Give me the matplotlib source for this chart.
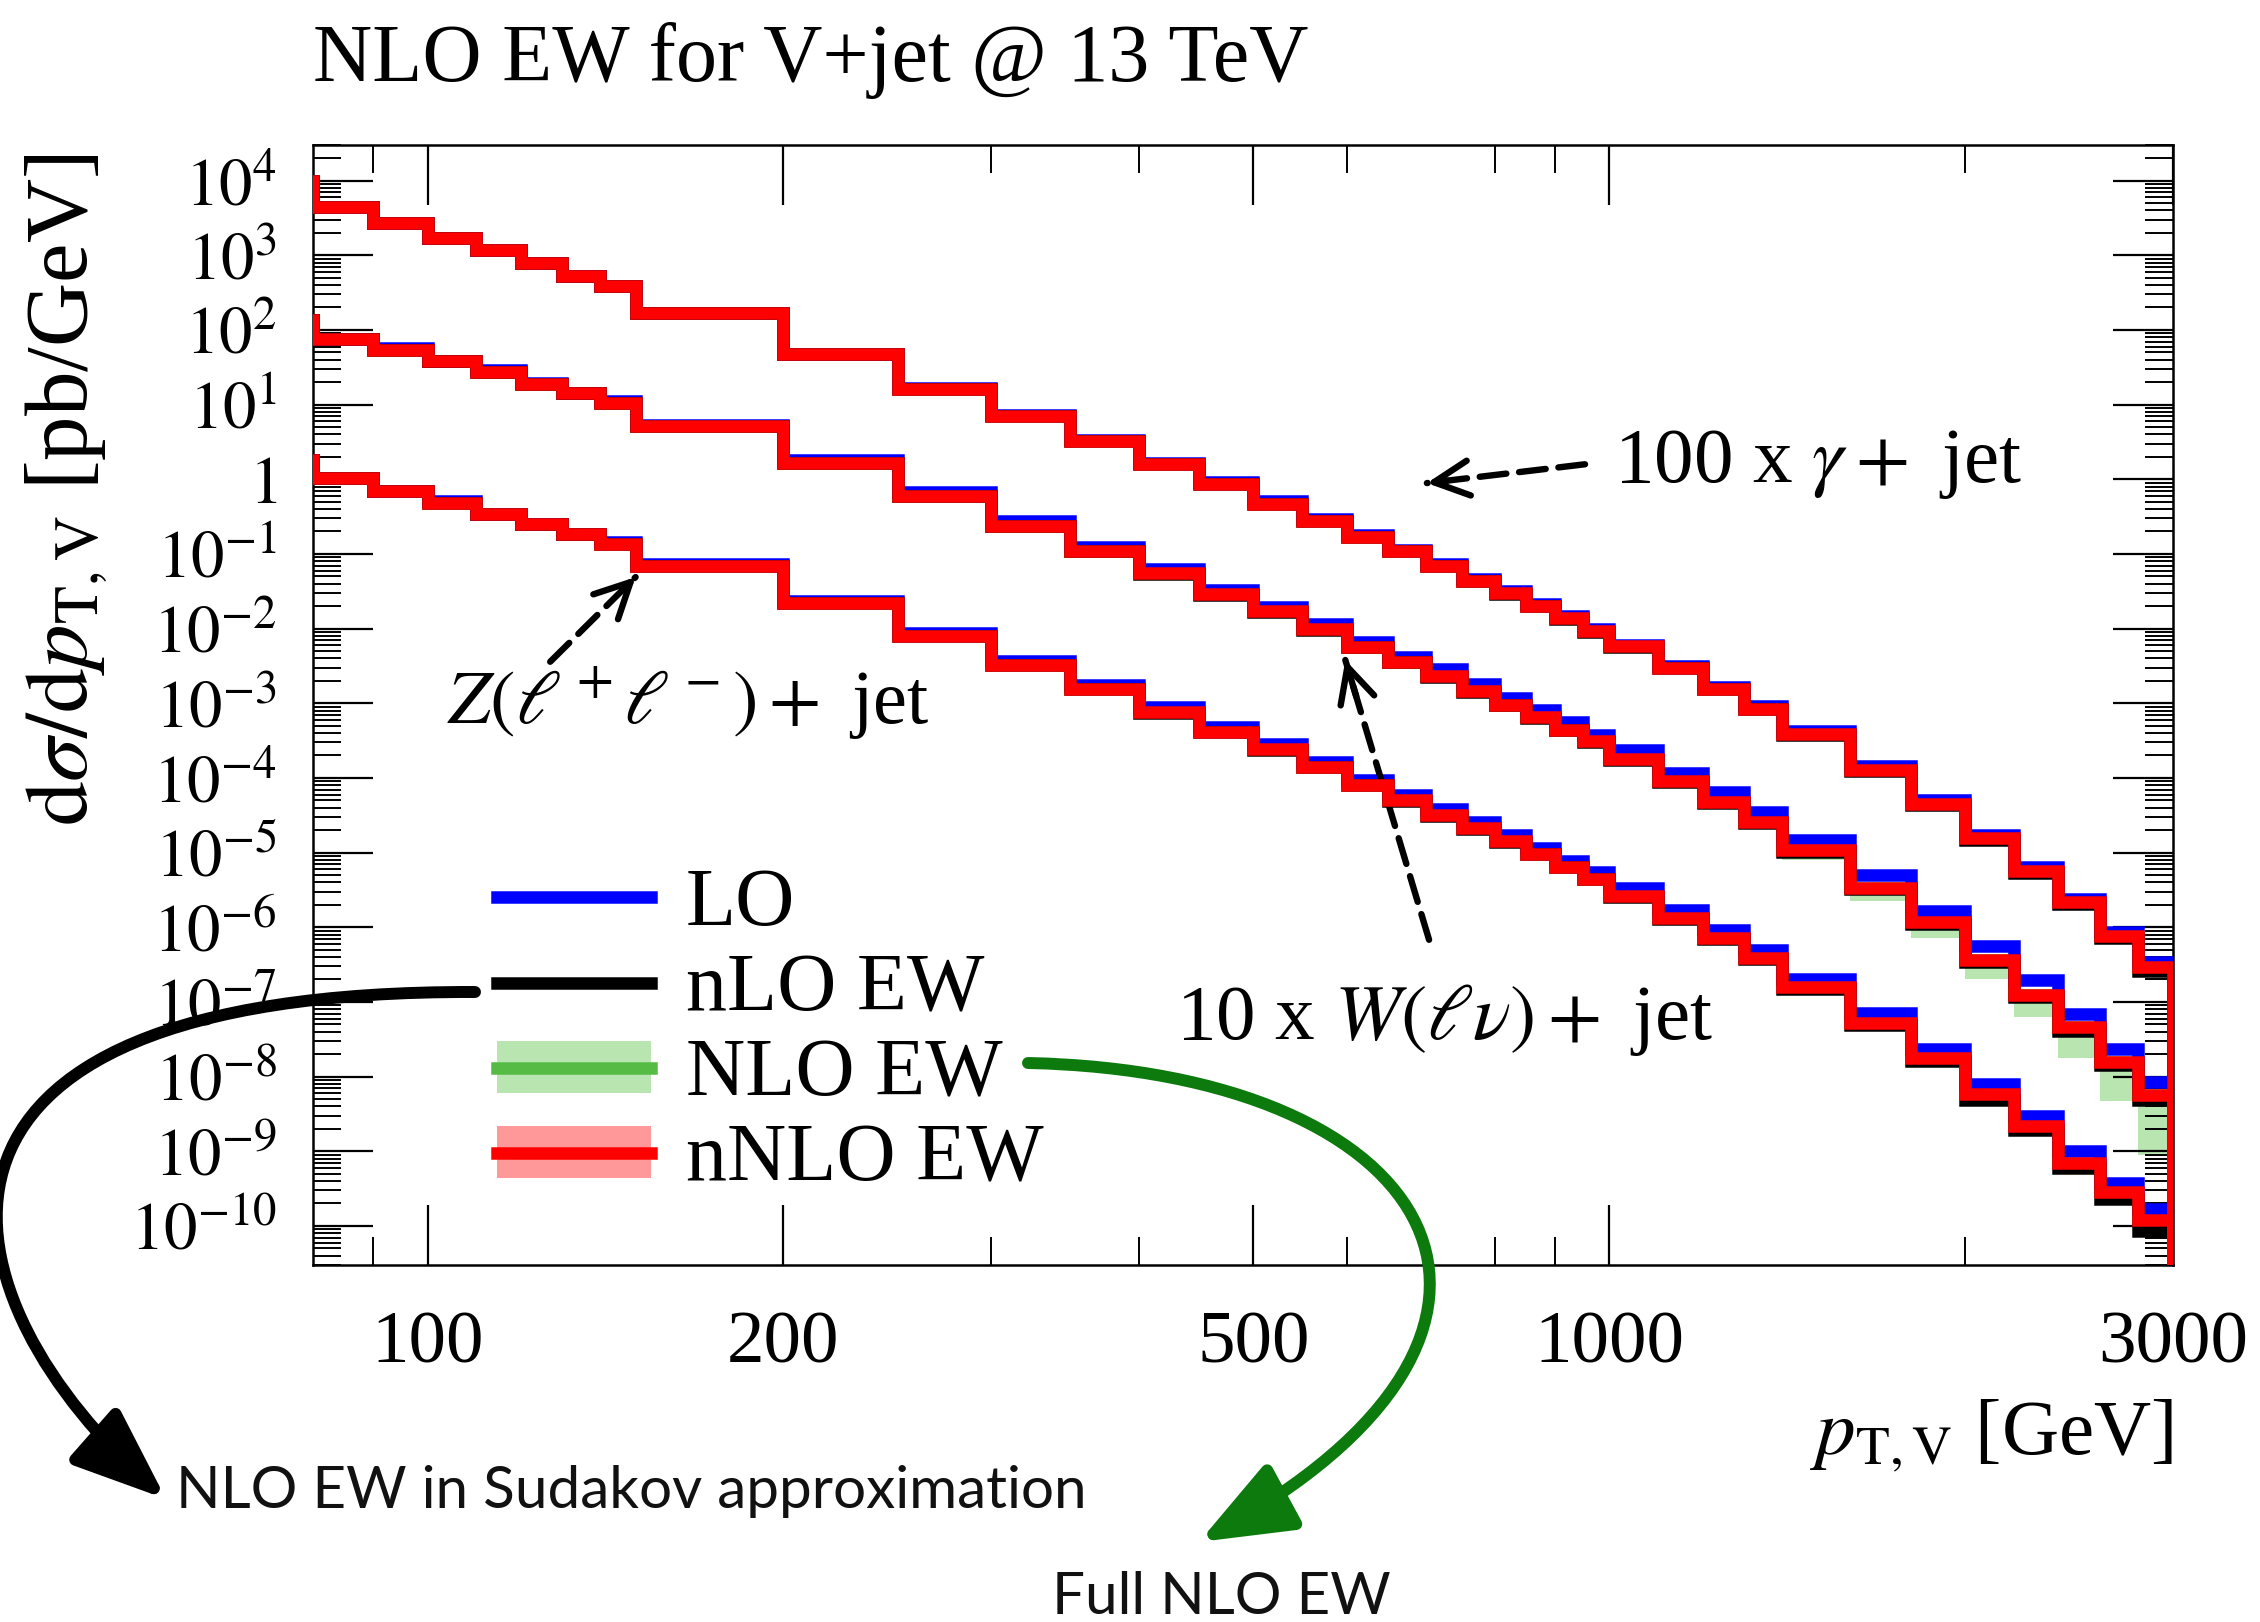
import numpy as np
import matplotlib
matplotlib.use("Agg")
import matplotlib.pyplot as plt
from matplotlib.lines import Line2D
from matplotlib.patches import Patch, FancyArrowPatch
from matplotlib.path import Path
from matplotlib.legend_handler import HandlerTuple
from matplotlib.ticker import FixedLocator, FixedFormatter, LogLocator, NullFormatter

plt.rcParams["font.family"] = ["Liberation Serif", "DejaVu Serif"]
plt.rcParams["mathtext.fontset"] = "stix"

# pT,V bin edges [GeV]
pt_edges = [80, 90, 100, 110, 120, 130, 140, 150, 200, 250, 300, 350, 400, 450, 500,
            550, 600, 650, 700, 750, 800, 850, 900, 950, 1000, 1100, 1200, 1300, 1400,
            1600, 1800, 2000, 2200, 2400, 2600, 2800, 3000]
underflow_edge = 70
overflow_edge = 4000

# nNLO EW distributions [pb/GeV], already scaled (100 x gamma, 10 x W)
gamma_nnlo = [4.44e3, 2.70e3, 1.71e3, 1.17e3, 7.89e2, 5.35e2, 3.88e2, 1.67e2, 48.3, 16.4,
              7.06, 3.27, 1.61, 0.873, 0.473, 0.277, 0.171, 0.108, 6.97e-2, 4.40e-2,
              2.98e-2, 2.02e-2, 1.37e-2, 9.27e-3, 5.83e-3, 2.97e-3, 1.56e-3, 8.49e-4,
              3.82e-4, 1.28e-4, 4.53e-5, 1.57e-5, 5.75e-6, 2.18e-6, 7.73e-7, 2.95e-7]
w_nnlo = [76.7, 53.5, 38.1, 27.2, 19.1, 14.1, 10.4, 5.14, 1.63, 0.592,
          0.238, 0.109, 5.50e-2, 2.90e-2, 1.71e-2, 9.82e-3, 5.75e-3, 3.60e-3, 2.30e-3, 1.45e-3,
          9.57e-4, 6.49e-4, 4.40e-4, 3.08e-4, 1.82e-4, 8.99e-5, 4.79e-5, 2.55e-5,
          1.07e-5, 3.41e-6, 1.17e-6, 3.67e-7, 1.24e-7, 4.60e-8, 1.57e-8, 5.6e-9]
z_nnlo = [1.03, 0.693, 0.483, 0.348, 0.251, 0.184, 0.138, 6.87e-2, 2.22e-2, 8.0e-3,
          3.30e-3, 1.56e-3, 7.74e-4, 4.14e-4, 2.41e-4, 1.41e-4, 8.11e-5, 5.06e-5, 3.18e-5, 2.13e-5,
          1.43e-5, 9.70e-6, 6.47e-6, 4.44e-6, 2.62e-6, 1.34e-6, 7.19e-7, 3.88e-7,
          1.61e-7, 5.20e-8, 1.78e-8, 5.90e-9, 2.19e-9, 6.92e-10, 2.82e-10, 1.19e-10]
# value of the bin just below 80 GeV (only its edge is visible)
underflow = [1.0e4, 135.0, 1.80]

# LO / nNLO EW
gamma_lo_ratio = [1.0, 1.0, 1.0, 1.0, 1.0, 1.0, 1.0, 1.0, 1.0, 1.015,
                  1.031, 1.031, 1.031, 1.047, 1.097, 1.047, 1.047, 1.047, 1.047, 1.047,
                  1.064, 1.064, 1.064, 1.064, 1.047, 1.064, 1.064, 1.08,
                  1.097, 1.114, 1.114, 1.097, 1.114, 1.114, 1.114, 1.149]
w_lo_ratio = [1.0, 1.064, 1.015, 1.064, 1.015, 1.015, 1.064, 1.031, 1.097, 1.152,
              1.152, 1.152, 1.152, 1.152, 1.152, 1.181, 1.152, 1.152, 1.237, 1.237,
              1.237, 1.252, 1.268, 1.222, 1.316, 1.316, 1.353, 1.353,
              1.374, 1.470, 1.412, 1.554, 1.574, 1.512, 1.512, 1.512]
z_lo_ratio = [1.0, 1.0, 1.054, 1.0, 1.0, 1.0, 1.064, 1.064, 1.064, 1.087,
              1.124, 1.138, 1.167, 1.167, 1.181, 1.152, 1.167, 1.167, 1.207, 1.192,
              1.222, 1.207, 1.192, 1.222, 1.280, 1.264, 1.264, 1.264,
              1.280, 1.353, 1.316, 1.353, 1.353, 1.447, 1.316, 1.412]

# nLO EW (Sudakov approximation) / nNLO EW
gamma_sud_ratio = [1.0, 1.0, 1.0, 1.0, 1.0, 1.0, 1.0, 1.0, 1.0, 1.0,
                   1.0, 1.0, 1.0, 1.0, 1.0, 1.0, 1.0, 1.0, 0.985, 0.985,
                   0.985, 0.985, 0.985, 0.985, 0.985, 0.985, 0.985, 0.985,
                   0.97, 0.97, 0.97, 0.94, 0.94, 0.94, 0.94, 0.884]
w_sud_ratio = [1.0, 1.0, 1.0, 1.0, 1.0, 1.0, 1.0, 1.0, 1.0, 1.0,
               1.0, 1.0, 0.97, 0.985, 0.985, 0.985, 0.985, 0.985, 0.985, 0.985,
               0.985, 0.985, 0.985, 0.985, 0.97, 0.97, 0.97, 0.97,
               0.955, 0.955, 0.94, 0.94, 0.926, 0.884, 0.912, 0.857]
z_sud_ratio = [1.0, 1.0, 1.0, 1.0, 1.0, 1.0, 1.0, 1.0, 1.0, 1.0,
               1.0, 1.0, 0.97, 0.985, 0.985, 0.985, 0.985, 0.985, 0.985, 0.985,
               0.985, 0.985, 0.985, 0.985, 0.97, 0.97, 0.97, 0.97,
               0.92, 0.94, 0.898, 0.836, 0.87, 0.87, 0.813, 0.712]

# full NLO EW for W: lower edge of the band / nNLO EW (upper part hidden under the lines)
w_nlo_low = [0.95, 0.95, 0.95, 0.95, 0.95, 0.95, 0.95, 0.95, 0.95, 0.95,
             0.95, 0.95, 0.95, 0.95, 0.95, 0.95, 0.95, 0.95, 0.95, 0.95,
             0.95, 0.95, 0.95, 0.95, 0.95, 0.95, 0.95, 0.95,
             0.746, 0.666, 0.620, 0.557, 0.506, 0.384, 0.296, 0.160]

ytick_vals = [1e4, 1e3, 1e2, 1e1, 1, 1e-1, 1e-2, 1e-3, 1e-4, 1e-5, 1e-6, 1e-7, 1e-8, 1e-9, 1e-10]
ytick_labels = [r"$10^{4}$", r"$10^{3}$", r"$10^{2}$", r"$10^{1}$", r"$1$",
                r"$10^{-1}$", r"$10^{-2}$", r"$10^{-3}$", r"$10^{-4}$", r"$10^{-5}$",
                r"$10^{-6}$", r"$10^{-7}$", r"$10^{-8}$", r"$10^{-9}$", r"$10^{-10}$"]
xtick_major = [100, 200, 500, 1000, 3000]
xtick_labels = ["100", "200", "500", "1000", "3000"]
xtick_minor = [90, 300, 400, 600, 800, 900, 2000]

LO_COLOR = "#0000ff"
SUD_COLOR = "#000000"
NLO_COLOR = "#55bb44"
NLO_BAND = "#b9e5b1"
NNLO_COLOR = "#ff0000"
NNLO_BAND = "#ff9999"
LW = 9.0

fig = plt.figure(figsize=(22.6, 16.22), dpi=100)
ax = fig.add_axes([313 / 2260, 1 - 1265 / 1622, 1860 / 2260, 1120 / 1622])

edges = np.concatenate([[underflow_edge], pt_edges, [overflow_edge]])


def padded(vals, first):
    # add the underflow bin and an empty overflow bin so the end edges are drawn
    return np.concatenate([[first], vals, [1e-30]])


def draw_process(nnlo, under, lo_ratio, sud_ratio, nlo_low=None):
    nnlo = np.asarray(nnlo)
    lo_ratio = np.asarray(lo_ratio)
    sud_ratio = np.asarray(sud_ratio)
    if nlo_low is not None:
        low = nnlo * np.asarray(nlo_low)
        ax.stairs(padded(nnlo, under), edges, baseline=padded(low, under * 0.95),
                  fill=True, color=NLO_BAND, lw=0, zorder=1)
        ax.stairs(padded(nnlo, under), edges, baseline=None, color=NLO_COLOR, lw=LW, zorder=2)
    ax.stairs(padded(nnlo * lo_ratio, under * lo_ratio[0]), edges, baseline=None,
              color=LO_COLOR, lw=LW, zorder=3)
    ax.stairs(padded(nnlo * sud_ratio, under * sud_ratio[0]), edges, baseline=None,
              color=SUD_COLOR, lw=LW, zorder=4)
    ax.stairs(padded(nnlo, under), edges, baseline=None, color=NNLO_COLOR, lw=LW, zorder=6)


draw_process(gamma_nnlo, underflow[0], gamma_lo_ratio, gamma_sud_ratio)
draw_process(w_nnlo, underflow[1], w_lo_ratio, w_sud_ratio, w_nlo_low)
draw_process(z_nnlo, underflow[2], z_lo_ratio, z_sud_ratio)

ax.set_xscale("log")
ax.set_yscale("log")
ax.set_xlim(80, 3000)
ax.set_ylim(3e-11, 3e4)

ax.xaxis.set_major_locator(FixedLocator(xtick_major))
ax.xaxis.set_major_formatter(FixedFormatter(xtick_labels))
ax.xaxis.set_minor_locator(FixedLocator(xtick_minor))
ax.xaxis.set_minor_formatter(NullFormatter())
ax.yaxis.set_major_locator(FixedLocator(ytick_vals))
ax.yaxis.set_major_formatter(FixedFormatter(ytick_labels))
ax.yaxis.set_minor_locator(LogLocator(base=10, subs=np.arange(2, 10), numticks=100))
ax.yaxis.set_minor_formatter(NullFormatter())

ax.tick_params(which="both", direction="in", top=True, right=True)
ax.tick_params(which="major", length=43, width=1.6)
ax.tick_params(which="minor", length=20, width=1.4)
ax.tick_params(axis="x", which="major", labelsize=54, pad=33)
ax.tick_params(axis="y", which="major", labelsize=48, pad=26)
for s in ax.spines.values():
    s.set_linewidth(1.8)

ax.set_xlabel(r"$p_{\mathrm{T,V}}$ [GeV]", fontsize=57, ha="right", va="center")
ax.xaxis.set_label_coords(1.0, -0.152)
ax.set_ylabel(r"$\mathrm{d}\sigma/\mathrm{d}p_{\mathrm{T,V}}$ [pb/GeV]", fontsize=64,
              ha="center", va="center")
ax.yaxis.set_label_coords(-0.133, 0.692)
ax.set_title("NLO EW for V+jet @ 13 TeV", loc="left", fontsize=59, pad=46)

# legend
handles = [Line2D([], [], color=LO_COLOR, lw=LW),
           Line2D([], [], color=SUD_COLOR, lw=LW),
           (Patch(facecolor=NLO_BAND, lw=0), Line2D([], [], color=NLO_COLOR, lw=LW)),
           (Patch(facecolor=NNLO_BAND, lw=0), Line2D([], [], color=NNLO_COLOR, lw=LW))]
labels = ["LO", "nLO EW", "NLO EW", "nNLO EW"]
ax.legend(handles, labels, handler_map={tuple: HandlerTuple(ndivide=1)},
          loc="center left", bbox_to_anchor=(0.099, 0.207), frameon=False,
          fontsize=59, handlelength=1.88, handleheight=0.6, handletextpad=0.42,
          labelspacing=0.12, borderpad=0, borderaxespad=0)

# process labels with dashed arrows
dash = (0, (4.2, 2.0))
arrow_specs = [
    ((954, 1.59), (701, 0.89), "100 x $\\gamma+$ jet", (1010, 1.59), "left", 57),
    ((127, 3.6e-3), (150, 4.9e-2), "$Z(\\ell^+\\ell^-)+$ jet", (166, 1.0e-3), "center", 55),
    ((704, 6.8e-7), (598, 3.8e-3), "10 x $W(\\ell\\nu)+$ jet", (726, 5.7e-8), "center", 57),
]
for tail, head, txt, txt_pos, ha, size in arrow_specs:
    ax.annotate("", xy=head, xytext=tail,
                arrowprops=dict(arrowstyle="-", lw=4.6, ls=dash, color="k",
                                shrinkA=0, shrinkB=0))
    near = (head[0] * (tail[0] / head[0]) ** 0.13, head[1] * (tail[1] / head[1]) ** 0.13)
    ax.annotate("", xy=head, xytext=near,
                arrowprops=dict(arrowstyle="->,head_length=0.9,head_width=0.45",
                                mutation_scale=28, lw=4.6, color="k",
                                shrinkA=0, shrinkB=0))
    ax.text(txt_pos[0], txt_pos[1], txt, fontsize=size, ha=ha, va="center")

# curved call-out arrows outside the axes (figure pixel positions, y measured from top)
W, H = 2260.0, 1622.0


def fig_path(pts):
    verts = [(x / W, 1 - y / H) for x, y in pts]
    return Path(verts, [Path.MOVETO, Path.CURVE4, Path.CURVE4, Path.CURVE4])


black_arrow = FancyArrowPatch(path=fig_path([(475, 992), (-140, 990), (-60, 1300), (166, 1499)]),
                              arrowstyle="-|>,head_length=1.4,head_width=0.55",
                              mutation_scale=40, lw=8.6, color="k",
                              transform=fig.transFigure, clip_on=False)
green_arrow = FancyArrowPatch(path=fig_path([(1028, 1063), (1441, 1072), (1590, 1330), (1199, 1542)]),
                              arrowstyle="-|>,head_length=1.4,head_width=0.55",
                              mutation_scale=40, lw=8.6, color="#0c7a0c",
                              transform=fig.transFigure, clip_on=False)
fig.patches.extend([black_arrow, green_arrow])

sans = ["Lato", "Open Sans", "DejaVu Sans"]
fig.text(176 / W, 1 - 1492 / H, "NLO EW in Sudakov approximation", fontsize=42,
         family=sans, ha="left", va="center", color="#111111")
fig.text(1052 / W, 1 - 1597 / H, "Full NLO EW", fontsize=42,
         family=sans, ha="left", va="center", color="#111111")

fig.savefig("out.png", dpi=100)
